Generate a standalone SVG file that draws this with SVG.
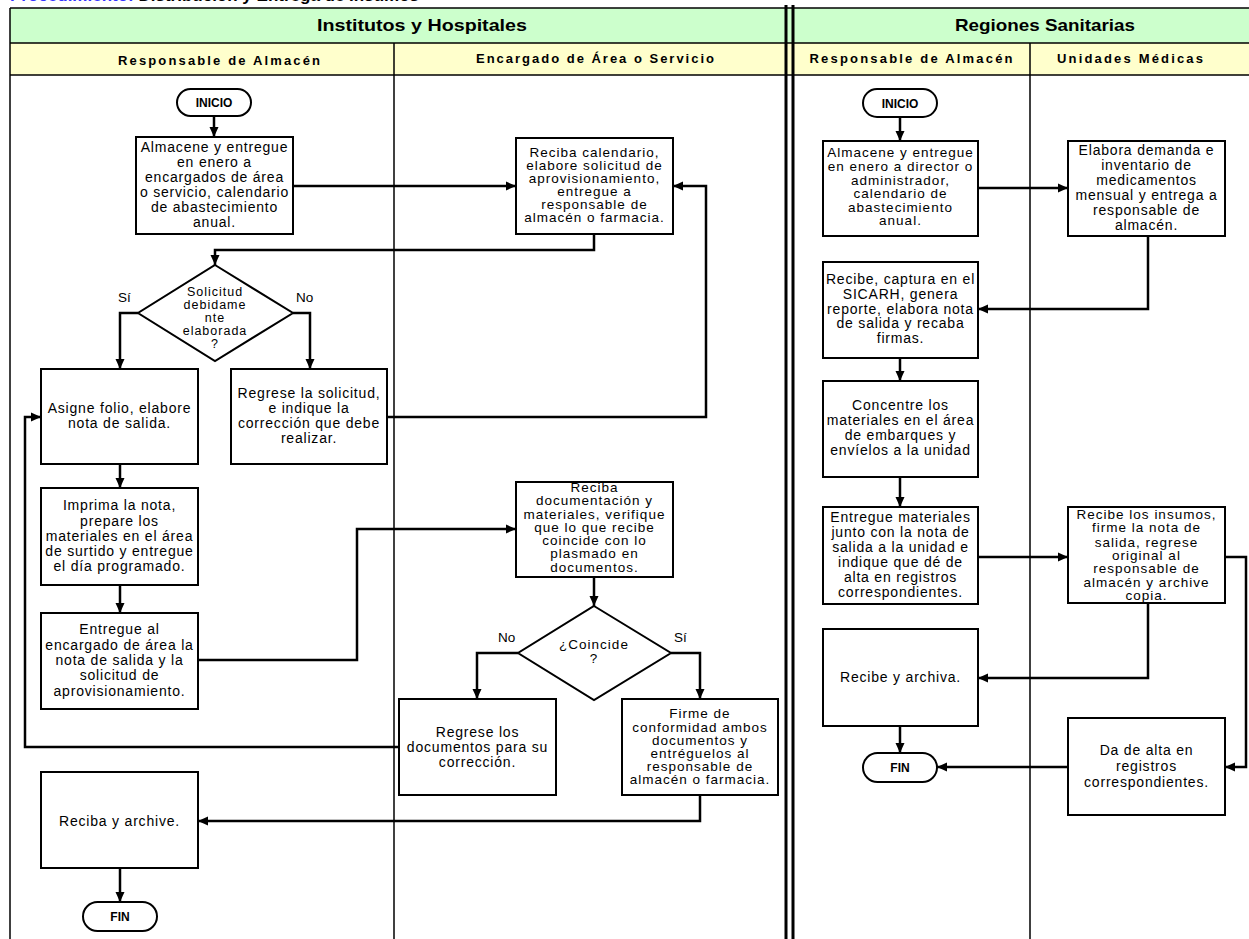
<svg xmlns="http://www.w3.org/2000/svg" width="1249" height="939" viewBox="0 0 1249 939">
<style>
.lane{stroke:#000;stroke-width:1.5;fill:none}
.box{fill:#fff;stroke:#000;stroke-width:2}
.term{fill:#fff;stroke:#000;stroke-width:2}
.t{font-family:"Liberation Sans",Arial,sans-serif;font-size:14px;letter-spacing:0.8px;text-anchor:middle;fill:#000}
.tc{font-family:"Liberation Sans",Arial,sans-serif;font-size:13.5px;letter-spacing:1px;text-anchor:middle;fill:#000}
.td{font-family:"Liberation Sans",Arial,sans-serif;font-size:12.5px;letter-spacing:1px;text-anchor:middle;fill:#000}
.tb{font-family:"Liberation Sans",Arial,sans-serif;font-size:12px;font-weight:bold;text-anchor:middle;fill:#000}
.hd{font-family:"Liberation Sans",Arial,sans-serif;font-size:17px;font-weight:bold;text-anchor:middle;fill:#000}
.sh{font-family:"Liberation Sans",Arial,sans-serif;font-size:13px;font-weight:bold;text-anchor:middle;fill:#000}
.lb{font-family:"Liberation Sans",Arial,sans-serif;font-size:13.5px;fill:#000}
.c{fill:none;stroke:#000;stroke-width:2.5;marker-end:url(#ah)}
</style>
<defs>
<marker id="ah" viewBox="0 0 10 10" refX="10" refY="5" markerWidth="10" markerHeight="10" markerUnits="userSpaceOnUse" orient="auto"><path d="M0,0.5 L10,5 L0,9.5 z" fill="#000"/></marker>
</defs>
<rect width="1249" height="939" fill="#fff"/>
<g id="title">
<text x="10" y="1" font-family="Liberation Sans, Arial, sans-serif" font-size="17" font-weight="bold"><tspan fill="#3333ff">Procedimiento:</tspan><tspan fill="#000"> Distribución y Entrega de Insumos</tspan></text>
</g>
<g id="lanes">
<rect x="10" y="8" width="1250" height="35" fill="#ccffcc"/>
<rect x="10" y="43" width="1250" height="32" fill="#ffffcc"/>
<line class="lane" x1="10" y1="8" x2="1249" y2="8"/>
<line class="lane" x1="10" y1="43" x2="1249" y2="43"/>
<line class="lane" x1="10" y1="75" x2="1249" y2="75"/>
<line class="lane" x1="10" y1="8" x2="10" y2="939"/>
<line class="lane" x1="394" y1="43" x2="394" y2="939"/>
<line class="lane" x1="1030" y1="43" x2="1030" y2="939"/>
<line x1="786" y1="5" x2="786" y2="939" stroke="#000" stroke-width="3"/>
<line x1="793" y1="5" x2="793" y2="939" stroke="#000" stroke-width="3"/>
<text class="hd" x="422" y="31" textLength="210" lengthAdjust="spacingAndGlyphs">Institutos y Hospitales</text>
<text class="hd" x="1045" y="31" textLength="180" lengthAdjust="spacingAndGlyphs">Regiones Sanitarias</text>
<text class="sh" x="219" y="65" textLength="202" lengthAdjust="spacing">Responsable de Almacén</text>
<text class="sh" x="595" y="63" textLength="238" lengthAdjust="spacing">Encargado de Área o Servicio</text>
<text class="sh" x="911" y="63" textLength="203" lengthAdjust="spacing">Responsable de Almacén</text>
<text class="sh" x="1130" y="63" textLength="146" lengthAdjust="spacing">Unidades Médicas</text>
</g>
<g id="connectors">
<path class="c" d="M214,116 V137"/>
<path class="c" d="M293,186 H516"/>
<path class="c" d="M594,234 V250 H215 V265"/>
<path class="c" d="M138,313 H120 V369"/>
<path class="c" d="M293,313 H310 V369"/>
<path class="c" d="M387,417 H706 V186 H673"/>
<path class="c" d="M120,464 V488"/>
<path class="c" d="M120,585 V613"/>
<path class="c" d="M198,660 H357 V529 H516"/>
<path class="c" d="M594,577 V606"/>
<path class="c" d="M518,653 H477 V699"/>
<path class="c" d="M671,653 H700 V699"/>
<path class="c" d="M399,747 H25 V417 H41"/>
<path class="c" d="M700,795 V821 H198"/>
<path class="c" d="M120,868 V902"/>
<path class="c" d="M900,117 V141"/>
<path class="c" d="M978,188 H1068"/>
<path class="c" d="M1148,236 V309 H978"/>
<path class="c" d="M900,358 V381"/>
<path class="c" d="M900,477 V507"/>
<path class="c" d="M978,557 H1068"/>
<path class="c" d="M1148,603 V678 H978"/>
<path class="c" d="M1225,557 H1246 V767 H1225"/>
<path class="c" d="M900,726 V753"/>
<path class="c" d="M1068,767 H937"/>
<text class="lb" x="118" y="302">Sí</text>
<text class="lb" x="296" y="302">No</text>
<text class="lb" x="498" y="642">No</text>
<text class="lb" x="674" y="642">Sí</text>
</g>
<g id="inicio1"><rect class="term" x="177" y="89" width="74" height="27" rx="13.5"/><text class="tb" x="214" y="107">INICIO</text></g>
<g id="n_almacene1"><rect class="box" x="136" y="137" width="157" height="97"/>
<text class="t"><tspan x="214.5" y="152">Almacene y entregue</tspan><tspan x="214.5" y="167">en enero a</tspan><tspan x="214.5" y="182">encargados de área</tspan><tspan x="214.5" y="197">o servicio, calendario</tspan><tspan x="214.5" y="212">de abastecimiento</tspan><tspan x="214.5" y="227">anual.</tspan></text></g>
<g id="n_reciba_cal"><rect class="box" x="516" y="138" width="157" height="96"/>
<text class="tc"><tspan x="594.5" y="157">Reciba calendario,</tspan><tspan x="594.5" y="170">elabore solicitud de</tspan><tspan x="594.5" y="183">aprovisionamiento,</tspan><tspan x="594.5" y="196">entregue a</tspan><tspan x="594.5" y="209">responsable de</tspan><tspan x="594.5" y="222">almacén o farmacia.</tspan></text></g>
<g id="d_solicitud"><path class="box" d="M215,265 L293,313 L215,361 L138,313 Z"/>
<text class="td"><tspan x="215" y="296">Solicitud</tspan><tspan x="215" y="309">debidame</tspan><tspan x="215" y="322">nte</tspan><tspan x="215" y="335">elaborada</tspan><tspan x="215" y="348">?</tspan></text></g>
<g id="n_asigne"><rect class="box" x="41" y="369" width="157" height="95"/>
<text class="t"><tspan x="119.5" y="413">Asigne folio, elabore</tspan><tspan x="119.5" y="428">nota de salida.</tspan></text></g>
<g id="n_regrese_sol"><rect class="box" x="231" y="369" width="156" height="95"/>
<text class="t"><tspan x="309" y="398">Regrese la solicitud,</tspan><tspan x="309" y="413">e indique la</tspan><tspan x="309" y="428">corrección que debe</tspan><tspan x="309" y="443">realizar.</tspan></text></g>
<g id="n_imprima"><rect class="box" x="41" y="488" width="157" height="97"/>
<text class="t"><tspan x="119.5" y="510">Imprima la nota,</tspan><tspan x="119.5" y="526">prepare los</tspan><tspan x="119.5" y="541">materiales en el área</tspan><tspan x="119.5" y="556">de surtido y entregue</tspan><tspan x="119.5" y="571">el día programado.</tspan></text></g>
<g id="n_entregue"><rect class="box" x="41" y="613" width="157" height="96"/>
<text class="t"><tspan x="119.5" y="634">Entregue al</tspan><tspan x="119.5" y="650">encargado de área la</tspan><tspan x="119.5" y="665">nota de salida y la</tspan><tspan x="119.5" y="680">solicitud de</tspan><tspan x="119.5" y="696">aprovisionamiento.</tspan></text></g>
<g id="n_reciba_doc"><rect class="box" x="516" y="482" width="157" height="95"/>
<text class="tc"><tspan x="594.5" y="492">Reciba</tspan><tspan x="594.5" y="505">documentación y</tspan><tspan x="594.5" y="518.5">materiales, verifique</tspan><tspan x="594.5" y="532">que lo que recibe</tspan><tspan x="594.5" y="545">coincide con lo</tspan><tspan x="594.5" y="558">plasmado en</tspan><tspan x="594.5" y="571.5">documentos.</tspan></text></g>
<g id="d_coincide"><path class="box" d="M594,606 L671,653 L594,700 L518,653 Z"/>
<text class="tc"><tspan x="594" y="649">¿Coincide</tspan><tspan x="594" y="663">?</tspan></text></g>
<g id="n_regrese_doc"><rect class="box" x="399" y="699" width="157" height="96"/>
<text class="t"><tspan x="477.5" y="737">Regrese los</tspan><tspan x="477.5" y="752">documentos para su</tspan><tspan x="477.5" y="767">corrección.</tspan></text></g>
<g id="n_firme"><rect class="box" x="622" y="699" width="156" height="96"/>
<text class="tc"><tspan x="700" y="718">Firme de</tspan><tspan x="700" y="732">conformidad ambos</tspan><tspan x="700" y="745">documentos y</tspan><tspan x="700" y="758">entréguelos al</tspan><tspan x="700" y="771">responsable de</tspan><tspan x="700" y="784">almacén o farmacia.</tspan></text></g>
<g id="n_reciba_archive"><rect class="box" x="41" y="772" width="157" height="96"/>
<text class="t"><tspan x="119.5" y="826">Reciba y archive.</tspan></text></g>
<g id="fin1"><rect class="term" x="83" y="902" width="74" height="29" rx="14.5"/><text class="tb" x="120" y="921">FIN</text></g>
<g id="inicio2"><rect class="term" x="863" y="89" width="74" height="28" rx="14"/><text class="tb" x="900" y="108">INICIO</text></g>
<g id="n_almacene2"><rect class="box" x="823" y="141" width="155" height="95"/>
<text class="tc"><tspan x="900.5" y="157">Almacene y entregue</tspan><tspan x="900.5" y="171">en enero a director o</tspan><tspan x="900.5" y="185">administrador,</tspan><tspan x="900.5" y="198">calendario de</tspan><tspan x="900.5" y="212">abastecimiento</tspan><tspan x="900.5" y="225">anual.</tspan></text></g>
<g id="n_elabora"><rect class="box" x="1068" y="141" width="157" height="95"/>
<text class="t"><tspan x="1146.5" y="155">Elabora demanda e</tspan><tspan x="1146.5" y="170">inventario de</tspan><tspan x="1146.5" y="185">medicamentos</tspan><tspan x="1146.5" y="200">mensual y entrega a</tspan><tspan x="1146.5" y="215">responsable de</tspan><tspan x="1146.5" y="230">almacén.</tspan></text></g>
<g id="n_recibe_captura"><rect class="box" x="823" y="262" width="155" height="96"/>
<text class="t"><tspan x="900.5" y="284">Recibe, captura en el</tspan><tspan x="900.5" y="299">SICARH, genera</tspan><tspan x="900.5" y="314">reporte, elabora nota</tspan><tspan x="900.5" y="328">de salida y recaba</tspan><tspan x="900.5" y="343">firmas.</tspan></text></g>
<g id="n_concentre"><rect class="box" x="823" y="381" width="155" height="96"/>
<text class="t"><tspan x="900.5" y="410">Concentre los</tspan><tspan x="900.5" y="425">materiales en el área</tspan><tspan x="900.5" y="440">de embarques y</tspan><tspan x="900.5" y="455">envíelos a la unidad</tspan></text></g>
<g id="n_entregue_mat"><rect class="box" x="823" y="507" width="155" height="97"/>
<text class="t"><tspan x="900.5" y="522">Entregue materiales</tspan><tspan x="900.5" y="537">junto con la nota de</tspan><tspan x="900.5" y="552">salida a la unidad e</tspan><tspan x="900.5" y="567">indique que dé de</tspan><tspan x="900.5" y="582">alta en registros</tspan><tspan x="900.5" y="597">correspondientes.</tspan></text></g>
<g id="n_recibe_insumos"><rect class="box" x="1068" y="507" width="157" height="96"/>
<text class="tc"><tspan x="1146.5" y="519">Recibe los insumos,</tspan><tspan x="1146.5" y="532">firme la nota de</tspan><tspan x="1146.5" y="547">salida, regrese</tspan><tspan x="1146.5" y="560">original al</tspan><tspan x="1146.5" y="573">responsable de</tspan><tspan x="1146.5" y="587">almacén y archive</tspan><tspan x="1146.5" y="600">copia.</tspan></text></g>
<g id="n_recibe_archiva"><rect class="box" x="823" y="629" width="155" height="97"/>
<text class="t"><tspan x="900.5" y="682">Recibe y archiva.</tspan></text></g>
<g id="fin2"><rect class="term" x="863" y="753" width="74" height="29" rx="14.5"/><text class="tb" x="900" y="772">FIN</text></g>
<g id="n_da_alta"><rect class="box" x="1068" y="718" width="157" height="97"/>
<text class="t"><tspan x="1146.5" y="755">Da de alta en</tspan><tspan x="1146.5" y="771">registros</tspan><tspan x="1146.5" y="787">correspondientes.</tspan></text></g>
</svg>
